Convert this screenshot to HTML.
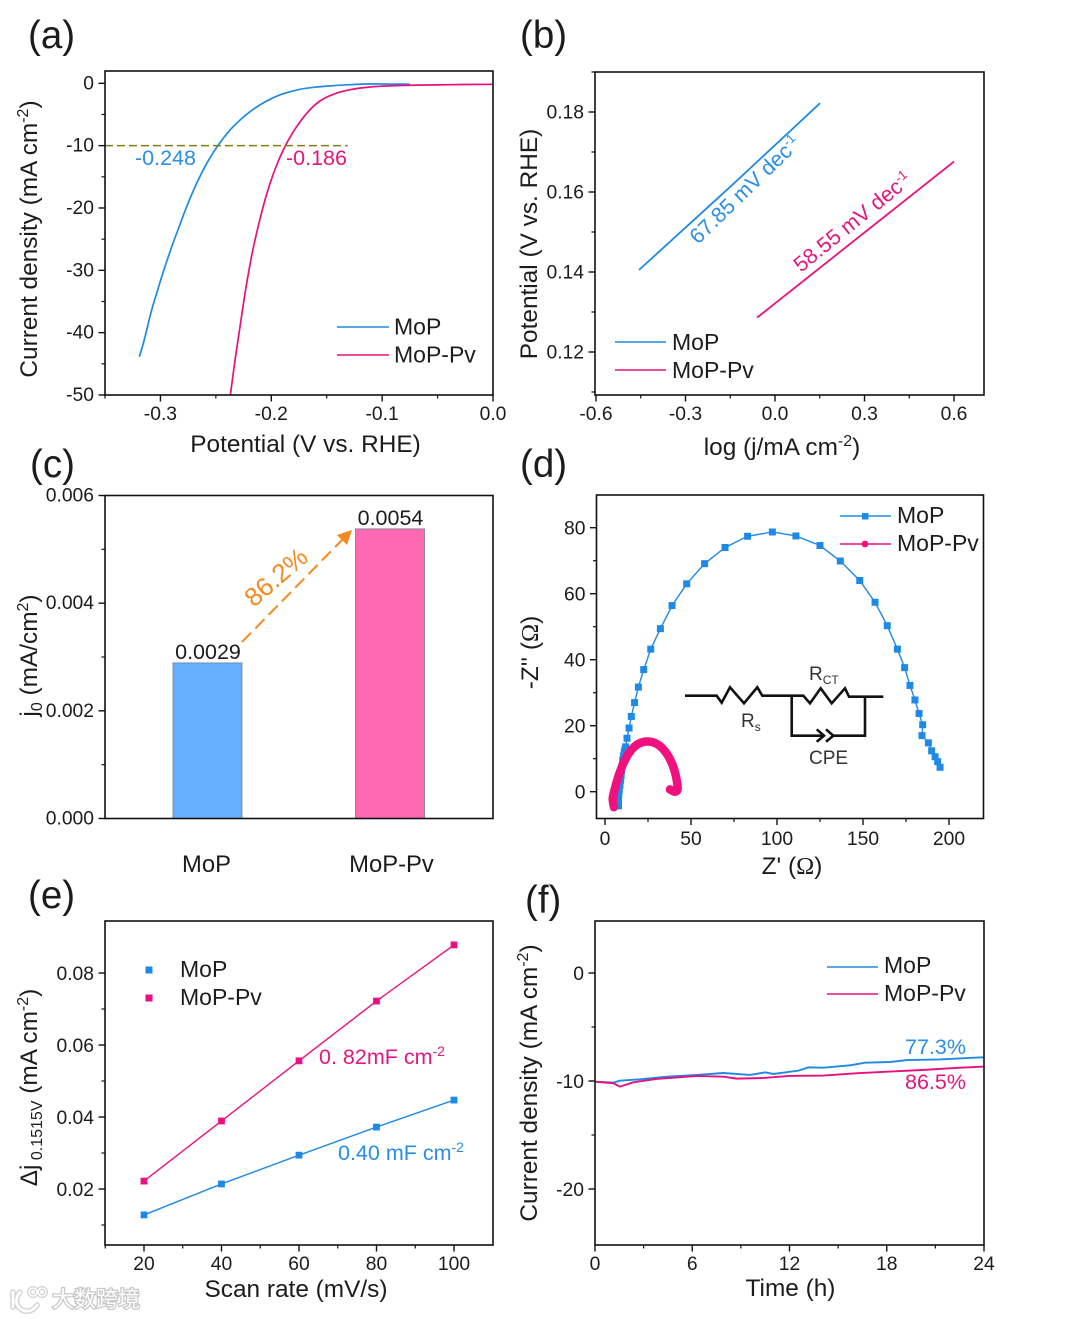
<!DOCTYPE html>
<html lang="en">
<head>
<meta charset="utf-8">
<title>MoP and MoP-Pv electrochemical performance</title>
<style>
html,body{margin:0;padding:0;background:#fff;}
svg{display:block;}
text{font-family:"Liberation Sans","Noto Sans CJK SC",sans-serif;fill:#1c1c1c;}
.t{font-size:19.3px;}
.title{font-size:24.4px;}
.leg{font-size:23px;}
.cat{font-size:23.8px;}
.pl{font-size:38.5px;}
.ann{font-size:21.5px;}
.blue{fill:#2a8ee6;}
.pink{fill:#e3177f;}
.om{font-family:"Liberation Serif",serif;}
</style>
</head>
<body>
<svg id="figure" width="1080" height="1319" viewBox="0 0 1080 1319" xmlns="http://www.w3.org/2000/svg">
<rect width="1080" height="1319" fill="#fff"/>

<text class="pl" x="28" y="48">(a)</text>
<text class="pl" x="520" y="48">(b)</text>
<text class="pl" x="30" y="477">(c)</text>
<text class="pl" x="520" y="477">(d)</text>
<text class="pl" x="28" y="908">(e)</text>
<text class="pl" x="525" y="913">(f)</text>

<g id="marks"></g>

<!-- axis titles -->
<text class="title" x="305.500" y="452" text-anchor="middle">Potential (V vs. RHE)</text>
<text class="title" transform="translate(37,239) rotate(-90)" text-anchor="middle">Current density (mA cm<tspan font-size="16" dy="-9">-2</tspan><tspan dy="9">)</tspan></text>
<text class="title" x="782" y="455" text-anchor="middle">log (j/mA cm<tspan font-size="16" dy="-9">-2</tspan><tspan dy="9">)</tspan></text>
<text class="title" transform="translate(537,244) rotate(-90)" text-anchor="middle">Potential (V vs. RHE)</text>
<text class="title" transform="translate(37,655.500) rotate(-90)" text-anchor="middle">j<tspan font-size="16" dy="5">0</tspan><tspan dy="-5"> (mA/cm</tspan><tspan font-size="16" dy="-9">2</tspan><tspan dy="9">)</tspan></text>
<text class="title" x="792" y="874" text-anchor="middle">Z' (<tspan class="om">Ω</tspan>)</text>
<text class="title" transform="translate(538,652.500) rotate(-90)" text-anchor="middle">-Z'' (<tspan class="om">Ω</tspan>)</text>
<text class="title" x="296" y="1297" text-anchor="middle">Scan rate (mV/s)</text>
<text class="title" transform="translate(37,1087.500) rotate(-90)" text-anchor="middle">Δj<tspan font-size="16" dy="5"> 0.1515V</tspan><tspan dy="-5"> (mA cm</tspan><tspan font-size="16" dy="-9">-2</tspan><tspan dy="9">)</tspan></text>
<text class="title" x="790.500" y="1296" text-anchor="middle">Time (h)</text>
<text class="title" transform="translate(537,1083) rotate(-90)" text-anchor="middle">Current density (mA cm<tspan font-size="16" dy="-9">-2</tspan><tspan dy="9">)</tspan></text>

<!-- legends -->
<g>
<line x1="337" x2="389" y1="327" y2="327" stroke="#1f8ae6" stroke-width="1.6"/>
<text class="leg" x="394" y="334.500">MoP</text>
<line x1="337" x2="389" y1="355" y2="355" stroke="#e8107e" stroke-width="1.6"/>
<text class="leg" x="394" y="362.500">MoP-Pv</text>
</g>
<g>
<line x1="615" x2="666" y1="342" y2="342" stroke="#1f8ae6" stroke-width="1.6"/>
<text class="leg" x="672" y="350">MoP</text>
<line x1="615" x2="666" y1="370" y2="370" stroke="#e8107e" stroke-width="1.6"/>
<text class="leg" x="672" y="378">MoP-Pv</text>
</g>
<g>
<line x1="840" x2="891" y1="516" y2="516" stroke="#1f8ae6" stroke-width="1.6"/>
<rect x="862" y="513" width="6.5" height="6.5" fill="#1f8ae6"/>
<text class="leg" x="897" y="523">MoP</text>
<line x1="840" x2="891" y1="544" y2="544" stroke="#f0107e" stroke-width="1.6"/>
<circle cx="865" cy="544" r="3.400" fill="#f0107e"/>
<text class="leg" x="897" y="551">MoP-Pv</text>
</g>
<g>
<rect x="145.500" y="966.500" width="7" height="7" fill="#1f8ae6"/>
<text class="leg" x="180" y="977">MoP</text>
<rect x="145.500" y="994.500" width="7" height="7" fill="#ec1080"/>
<text class="leg" x="180" y="1005">MoP-Pv</text>
</g>
<g>
<line x1="827" x2="878" y1="967" y2="967" stroke="#1f8ae6" stroke-width="1.6"/>
<text class="leg" x="884" y="973">MoP</text>
<line x1="827" x2="878" y1="994" y2="994" stroke="#e8107e" stroke-width="1.6"/>
<text class="leg" x="884" y="1001">MoP-Pv</text>
</g>

<!-- annotations -->
<text class="ann blue" x="135" y="165">-0.248</text>
<text class="ann pink" x="286" y="165">-0.186</text>
<text class="ann blue" transform="translate(698,245) rotate(-44)">67.85 mV dec<tspan font-size="13" dy="-8">-1</tspan></text>
<text class="ann pink" transform="translate(801,273) rotate(-39)">58.55 mV dec<tspan font-size="13" dy="-8">-1</tspan></text>
<text transform="translate(254,608) rotate(-41)" style="font-size:26px;fill:#f58a1f">86.2%</text>
<text class="ann" x="319" y="1064" style="fill:#e3177f">0. 82mF cm<tspan font-size="14" dy="-8">-2</tspan></text>
<text class="ann" x="338" y="1160" style="fill:#2a8ee6">0.40 mF cm<tspan font-size="14" dy="-8">-2</tspan></text>
<text class="ann blue" x="905" y="1054">77.3%</text>
<text class="ann pink" x="905" y="1089">86.5%</text>

<!-- equivalent circuit inset -->
<g fill="none" stroke="#111" stroke-width="2.6">
<polyline points="685,695.700 716.700,695.700 721.700,702.700 730,687.300 744,703.300 757.300,687.300 762.300,695.700 803.300,695.700 810,703.300 820.700,688.300 831.700,703.300 845,688.300 849,696.700 883.300,696.700"/>
<polyline points="791.700,695.700 791.700,735.700 824,735.700"/>
<polyline points="865,696.700 865,735.700 833,735.700"/>
<polyline points="816.700,729.300 824,735.700 816.700,741.700"/>
<polyline points="826,729.300 833.300,735.700 826,741.700"/>
</g>
<text x="809" y="680" style="font-size:19px;fill:#333">R<tspan font-size="12" dy="4">CT</tspan></text>
<text x="741" y="727" style="font-size:19px;fill:#333">R<tspan font-size="12" dy="4">s</tspan></text>
<text x="809" y="764" style="font-size:19px;fill:#333">CPE</text>

<!-- watermark -->
<g>
<g fill="none" stroke="#d2d2d2" stroke-width="5.500" stroke-linecap="round">
<path d="M13 1292 L13 1307"/>
<path d="M20 1292 C15 1298 15 1306 22 1310 C28 1313 34 1310 37 1305"/>
<circle cx="33" cy="1292" r="4" stroke-width="4"/>
<circle cx="42" cy="1292" r="4" stroke-width="4"/>
</g>
<g fill="none" stroke="#fff" stroke-width="2.800" stroke-linecap="round">
<path d="M13 1292 L13 1307"/>
<path d="M20 1292 C15 1298 15 1306 22 1310 C28 1313 34 1310 37 1305"/>
<circle cx="33" cy="1292" r="4" stroke-width="1.600"/>
<circle cx="42" cy="1292" r="4" stroke-width="1.600"/>
</g>
<text x="52" y="1307" style="font-size:22px;fill:#fff;stroke:#c8c8c8;stroke-width:2.500px;paint-order:stroke;font-family:'Noto Sans CJK SC','WenQuanYi Zen Hei',sans-serif">大数跨境</text>
</g>
</svg>

<script>
// Panel (a): LSV curves
const aMopPotential = [-0.319,-0.3154,-0.3124,-0.3079,-0.3034,-0.2974,-0.2898,-0.2839,-0.2763,-0.2673,-0.2582,-0.2478,-0.2372,-0.2282,-0.2192,-0.2102,-0.2012,-0.1892,-0.1741,-0.159,-0.144,-0.129,-0.111,-0.0749];
const aMopCurrent = [-43.86,-41.7,-39.57,-36.37,-33.69,-30.22,-26.21,-23.37,-19.79,-16.04,-12.83,-9.9,-7.49,-5.89,-4.56,-3.46,-2.57,-1.67,-0.96,-0.59,-0.38,-0.22,-0.11,-0.14];
const aPvPotential = [-0.2369,-0.2327,-0.2282,-0.2237,-0.2198,-0.2147,-0.2057,-0.1982,-0.1892,-0.1801,-0.168,-0.1561,-0.144,-0.129,-0.111,-0.0839,-0.0388,0];
const aPvCurrent = [-50,-44.39,-39.04,-33.69,-29.68,-25.14,-18.72,-14.55,-10.7,-7.76,-4.81,-2.84,-1.76,-1.03,-0.59,-0.35,-0.22,-0.16];
const aRefCurrent = [-10];
const aXTicks = [-0.3,-0.2,-0.1,0];
const aXMinor = [-0.35,-0.25,-0.15,-0.05];
const aXLabels = ['-0.3','-0.2','-0.1','0.0'];
const aYTicks = [0,-10,-20,-30,-40,-50];
const aYMinor = [-5,-15,-25,-35,-45];
const aYLabels = ['0','-10','-20','-30','-40','-50'];

// Panel (b): Tafel lines
const bMopLog = [-0.456,-0.15,0.151];
const bMopPotential = [0.1405,0.1613,0.1822];
const bPvLog = [-0.06,0.27,0.6];
const bPvPotential = [0.1286,0.1481,0.1676];
const bXTicks = [-0.6,-0.3,0,0.3,0.6];
const bXMinor = [-0.45,-0.15,0.15,0.45];
const bXLabels = ['-0.6','-0.3','0.0','0.3','0.6'];
const bYTicks = [0.12,0.14,0.16,0.18];
const bYMinor = [0.11,0.13,0.15,0.17,0.19];
const bYLabels = ['0.12','0.14','0.16','0.18'];

// Panel (c): exchange current density bars
const cCategories = ['MoP','MoP-Pv'];
const cValues = [0.00289,0.00538];
const cValueLabels = ['0.0029','0.0054'];
const cYTicks = [0,0.002,0.004,0.006];
const cYMinor = [0.001,0.003,0.005];
const cYLabels = ['0.000','0.002','0.004','0.006'];

// Panel (d): Nyquist plot
const dMopRe = [194.8,193.4,191.9,189.9,188,184.3,184.7,182.6,180.2,177.3,174.2,170,164.1,157,148.1,136.8,125,111,97.3,82.9,69.8,57.9,47.5,39,32.2,26.6,22.5,19.4,17.2,15.3,14,12.8,12,11.6,11.2,10.7,10.3,10,9.7,9.4,9.1,8.7,8.3,8,7.8,7.8,7.8];
const dMopIm = [7.4,9.1,10.6,12.4,14.8,17,20.3,23.7,27.8,32.2,37.6,43.2,50.3,57.4,64,69.9,74.6,77.5,78.7,77.4,74,69.1,63,56.4,49.4,43.2,37,31.7,27,22.8,19.3,16.2,13.6,12.8,12,10.8,9.6,8,6.5,5,3.5,2,0.5,-1,-2.5,-3.4,-4.3];
const dPvRe = [5.2,4.5,5.8,7.7,10.7,14.5,19.4,25.2,31,35.8,39.3,41.3,42.2,40.7,37.8];
const dPvIm = [-4.7,-2,1,4.5,8.6,12.1,14.5,15.2,14.2,11.6,8.1,4.5,1,0,0.7];
const dXTicks = [0,50,100,150,200];
const dXMinor = [25,75,125,175];
const dXLabels = ['0','50','100','150','200'];
const dYTicks = [0,20,40,60,80];
const dYMinor = [10,30,50,70];
const dYLabels = ['0','20','40','60','80'];

// Panel (e): double-layer capacitance
const eScanRate = [20,40,60,80,100];
const eMop = [0.0128,0.0214,0.0294,0.0372,0.0447];
const ePv = [0.0222,0.0389,0.0556,0.0722,0.0878];
const eXTicks = [20,40,60,80,100];
const eXMinor = [10,30,50,70,90];
const eXLabels = ['20','40','60','80','100'];
const eYTicks = [0.02,0.04,0.06,0.08];
const eYMinor = [0.01,0.03,0.05,0.07];
const eYLabels = ['0.02','0.04','0.06','0.08'];

// Panel (f): stability
const fMopTime = [0,1.13,1.54,2.78,4.42,6.28,7.92,9.57,10.5,11,12.55,13.17,14.1,15.74,16.67,18.2,19.25,21.3,23.4,24];
const fMopCurrent = [-10.06,-10.15,-9.97,-9.84,-9.6,-9.44,-9.26,-9.44,-9.2,-9.35,-9.04,-8.74,-8.77,-8.55,-8.3,-8.24,-8.06,-8,-7.84,-7.81];
const fPvTime = [0,1.13,1.54,2.36,3.8,6.28,7.92,8.74,10.4,12,14.1,16.2,18.2,20.3,22.4,24];
const fPvCurrent = [-10.06,-10.21,-10.52,-10.12,-9.81,-9.53,-9.6,-9.78,-9.72,-9.53,-9.5,-9.28,-9.13,-8.97,-8.78,-8.66];
const fXTicks = [0,6,12,18,24];
const fXMinor = [3,9,15,21];
const fXLabels = ['0','6','12','18','24'];
const fYTicks = [0,-10,-20];
const fYMinor = [-5,-15];
const fYLabels = ['0','-10','-20'];

const NS = 'http://www.w3.org/2000/svg';
const root = document.getElementById('marks');
const BLUE = '#1f8ae6', PINK = '#e8107e';

function make(tag, props, parent) {
  const node = document.createElementNS(NS, tag);
  for (const key in props) node.setAttribute(key, props[key]);
  (parent || root).appendChild(node);
  return node;
}
function scale(d0, d1, r0, r1) {
  return v => r0 + (v - d0) * (r1 - r0) / (d1 - d0);
}
function smoothPath(px, py) {
  let d = 'M' + px[0].toFixed(2) + ' ' + py[0].toFixed(2);
  for (let i = 0; i < px.length - 1; i++) {
    const a = Math.max(i - 1, 0), b = Math.min(i + 2, px.length - 1);
    d += ' C' + (px[i] + (px[i + 1] - px[a]) / 6).toFixed(2) + ' ' + (py[i] + (py[i + 1] - py[a]) / 6).toFixed(2) +
         ' ' + (px[i + 1] - (px[b] - px[i]) / 6).toFixed(2) + ' ' + (py[i + 1] - (py[b] - py[i]) / 6).toFixed(2) +
         ' ' + px[i + 1].toFixed(2) + ' ' + py[i + 1].toFixed(2);
  }
  return d;
}
function polyPath(px, py) {
  return px.map((x, i) => (i ? 'L' : 'M') + x.toFixed(2) + ' ' + py[i].toFixed(2)).join(' ');
}
function drawAxes(id, box, xs, ys, xT, xM, xL, yT, yM, yL, xBase, yOff) {
  const g = make('g', {});
  
  
  const frame = make('rect', {x: box.l, y: box.t, width: box.r - box.l, height: box.b - box.t, fill: 'none', stroke: '#111', 'stroke-width': 1.6}, g);
  
  
  xT.forEach((v, i) => {
    const tick = make('line', {x1: xs(v), x2: xs(v), y1: box.b, y2: box.b + 6.5, stroke: '#111', 'stroke-width': 1.4}, g);
    
    
    const label = make('text', {x: xs(v), y: xBase, 'text-anchor': 'middle', class: 't'}, g);
    label.textContent = xL[i];
    
    
  });
  xM.forEach(v => {
    const tick = make('line', {x1: xs(v), x2: xs(v), y1: box.b, y2: box.b + 3.5, stroke: '#111', 'stroke-width': 1.2}, g);
    
    
  });
  yT.forEach((v, i) => {
    const tick = make('line', {x1: box.l - 6.5, x2: box.l, y1: ys(v), y2: ys(v), stroke: '#111', 'stroke-width': 1.4}, g);
    
    
    const label = make('text', {x: box.l - 11, y: ys(v) + yOff, 'text-anchor': 'end', class: 't'}, g);
    label.textContent = yL[i];
    
    
  });
  yM.forEach(v => {
    const tick = make('line', {x1: box.l - 3.5, x2: box.l, y1: ys(v), y2: ys(v), stroke: '#111', 'stroke-width': 1.2}, g);
    
    
  });
}

// ---- (a)
const axA = scale(-0.35, 0, 105, 493), ayA = scale(0, -50, 83.3, 395);
const lineAMop = make('path', {d: smoothPath(aMopPotential.map(axA), aMopCurrent.map(ayA)), fill: 'none', stroke: BLUE, 'stroke-width': 1.7});


const lineAPv = make('path', {d: smoothPath(aPvPotential.map(axA), aPvCurrent.map(ayA)), fill: 'none', stroke: PINK, 'stroke-width': 1.7});


const refLine = make('line', {x1: axA(-0.35), x2: axA(-0.131), y1: ayA(aRefCurrent[0]), y2: ayA(aRefCurrent[0]), stroke: '#7f7f1e', 'stroke-width': 1.5, 'stroke-dasharray': '8 4'});


drawAxes('a', {l: 105, r: 493, t: 71, b: 395}, axA, ayA, aXTicks, aXMinor, aXLabels, aYTicks, aYMinor, aYLabels, 420, 6);

// ---- (b)
const axB = scale(0, 0.3, 775, 864.5), ayB = scale(0.14, 0.16, 272, 192);
const lineBMop = make('path', {d: polyPath(bMopLog.map(axB), bMopPotential.map(ayB)), fill: 'none', stroke: BLUE, 'stroke-width': 1.8});


const lineBPv = make('path', {d: polyPath(bPvLog.map(axB), bPvPotential.map(ayB)), fill: 'none', stroke: PINK, 'stroke-width': 1.8});


drawAxes('b', {l: 595, r: 984, t: 72, b: 395}, axB, ayB, bXTicks, bXMinor, bXLabels, bYTicks, bYMinor, bYLabels, 420, 6.5);

// ---- (c)
const ayC = scale(0, 0.006, 818.5, 495.5);
const cCenter = i => 207.5 + i * 182.5;
const barFills = ['#66b0ff', '#ff69b4'];
cValues.forEach((v, i) => {
  const bar = make('rect', {x: cCenter(i) - 34.5, y: ayC(v), width: 69, height: ayC(0) - ayC(v), fill: barFills[i], stroke: '#6f7f8f', 'stroke-width': 0.8});
  
  
  const value = make('text', {x: cCenter(i) + 0.5, y: ayC(v) - 4, 'text-anchor': 'middle', style: 'font-size:21.5px'});
  value.textContent = cValueLabels[i];
  
  
  const cat = make('text', {x: 206.5 + i * 185, y: 872, 'text-anchor': 'middle', class: 'cat'});
  cat.textContent = cCategories[i];
  
  
});
drawAxes('c', {l: 105, r: 493, t: 495.5, b: 818.5}, v => v, ayC, [], [], [], cYTicks, cYMinor, cYLabels, 0, 6);
const arrowLine = make('line', {x1: 242, y1: 642, x2: 343, y2: 539, stroke: '#f58a1f', 'stroke-width': 2, 'stroke-dasharray': '13 6'});


const arrowHead = make('polygon', {points: '352,530 347,545 337,535', fill: '#f58a1f'});



// ---- (d)
const axD = scale(0, 200, 605, 949), ayD = scale(0, 80, 791.7, 527.7);
const lineDMop = make('path', {d: polyPath(dMopRe.map(axD), dMopIm.map(ayD)), fill: 'none', stroke: BLUE, 'stroke-width': 1.4});


dMopRe.forEach((v, i) => {
  const m = make('rect', {x: axD(v) - 3.5, y: ayD(dMopIm[i]) - 3.5, width: 7, height: 7, fill: '#1f8ae6'});
  
  
});
const lineDPv = make('path', {d: smoothPath(dPvRe.map(axD), dPvIm.map(ayD)), fill: 'none', stroke: '#f0107e', 'stroke-width': 8.5, 'stroke-linecap': 'round', 'stroke-linejoin': 'round'});


dPvRe.forEach((v, i) => {
  const m = make('circle', {cx: axD(v), cy: ayD(dPvIm[i]), r: 4, fill: '#f0107e'});
  
  
});
drawAxes('d', {l: 596.5, r: 983.5, t: 495, b: 818.5}, axD, ayD, dXTicks, dXMinor, dXLabels, dYTicks, dYMinor, dYLabels, 845, 7);

// ---- (e)
const axE = scale(20, 100, 144, 454), ayE = scale(0.02, 0.08, 1189, 973);
const lineEMop = make('path', {d: polyPath(eScanRate.map(axE), eMop.map(ayE)), fill: 'none', stroke: BLUE, 'stroke-width': 1.4});


const lineEPv = make('path', {d: polyPath(eScanRate.map(axE), ePv.map(ayE)), fill: 'none', stroke: PINK, 'stroke-width': 1.4});


eScanRate.forEach((v, i) => {
  const a = make('rect', {x: axE(v) - 3.4, y: ayE(eMop[i]) - 3.4, width: 6.8, height: 6.8, fill: '#1f8ae6'});
  
  
  const b = make('rect', {x: axE(v) - 3.4, y: ayE(ePv[i]) - 3.4, width: 6.8, height: 6.8, fill: '#ec1080'});
  
  
});
drawAxes('e', {l: 105, r: 493, t: 921, b: 1245}, axE, ayE, eXTicks, eXMinor, eXLabels, eYTicks, eYMinor, eYLabels, 1270, 7);

// ---- (f)
const axF = scale(0, 24, 595, 984), ayF = scale(0, -20, 973, 1189);
const lineFMop = make('path', {d: polyPath(fMopTime.map(axF), fMopCurrent.map(ayF)), fill: 'none', stroke: BLUE, 'stroke-width': 1.9});


const lineFPv = make('path', {d: polyPath(fPvTime.map(axF), fPvCurrent.map(ayF)), fill: 'none', stroke: PINK, 'stroke-width': 1.9});


drawAxes('f', {l: 595, r: 984, t: 921, b: 1245}, axF, ayF, fXTicks, fXMinor, fXLabels, fYTicks, fYMinor, fYLabels, 1270, 7);
</script>
</body>
</html>
